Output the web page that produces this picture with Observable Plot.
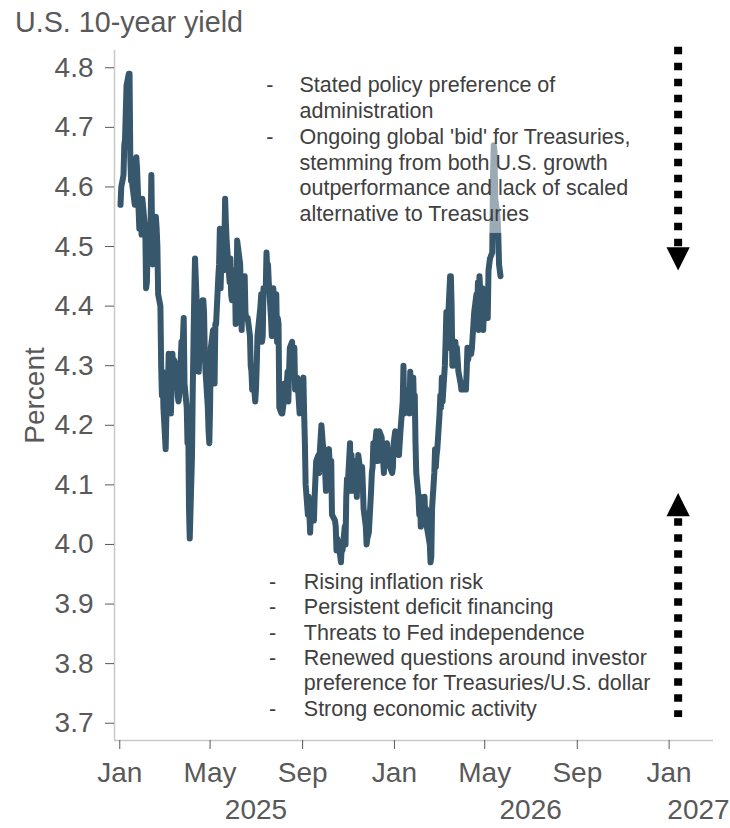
<!DOCTYPE html>
<html><head><meta charset="utf-8">
<script src="https://cdn.jsdelivr.net/npm/d3@7"></script>
<script src="https://cdn.jsdelivr.net/npm/@observablehq/plot@0.6"></script>
<style>
body{margin:0;background:#fff;font-family:"Liberation Sans",Arial,sans-serif;}
#title{height:40px;line-height:45px;font-size:28.7px;color:#595959;padding-left:15px;white-space:nowrap;}
#chart svg{overflow:hidden;display:block}
</style></head><body>
<div id="title">U.S. 10-year yield</div>
<div id="chart"></div>
<script>
// ---- data ----
const series2025 = [
["2025-01-02",4.57],["2025-01-03",4.60],["2025-01-06",4.62],["2025-01-07",4.67],["2025-01-08",4.68],["2025-01-10",4.77],["2025-01-13",4.79],["2025-01-14",4.79],["2025-01-15",4.65],["2025-01-16",4.61],["2025-01-17",4.61],["2025-01-21",4.57],["2025-01-22",4.60],["2025-01-23",4.65],["2025-01-24",4.63],["2025-01-27",4.53],["2025-01-28",4.55],["2025-01-29",4.55],["2025-01-30",4.52],["2025-01-31",4.58],
["2025-02-03",4.54],["2025-02-04",4.52],["2025-02-05",4.43],["2025-02-06",4.44],["2025-02-07",4.49],["2025-02-10",4.50],["2025-02-11",4.54],["2025-02-12",4.62],["2025-02-13",4.52],["2025-02-14",4.47],["2025-02-18",4.55],["2025-02-19",4.53],["2025-02-20",4.50],["2025-02-21",4.42],["2025-02-24",4.40],["2025-02-25",4.30],["2025-02-26",4.25],["2025-02-27",4.29],["2025-02-28",4.23],
["2025-03-03",4.16],["2025-03-04",4.22],["2025-03-05",4.28],["2025-03-06",4.26],["2025-03-07",4.32],["2025-03-10",4.22],["2025-03-11",4.28],["2025-03-12",4.32],["2025-03-13",4.27],["2025-03-14",4.31],["2025-03-17",4.30],["2025-03-18",4.28],["2025-03-19",4.25],["2025-03-20",4.24],["2025-03-21",4.25],["2025-03-24",4.34],["2025-03-25",4.31],["2025-03-26",4.35],["2025-03-27",4.38],["2025-03-28",4.27],["2025-03-31",4.23],
["2025-04-01",4.17],["2025-04-02",4.20],["2025-04-03",4.06],["2025-04-04",4.01],["2025-04-07",4.15],["2025-04-08",4.26],["2025-04-09",4.34],["2025-04-10",4.42],["2025-04-11",4.48],["2025-04-14",4.38],["2025-04-15",4.33],["2025-04-16",4.29],["2025-04-17",4.33],["2025-04-21",4.41],["2025-04-22",4.41],["2025-04-23",4.39],["2025-04-24",4.32],["2025-04-25",4.29],["2025-04-28",4.23],["2025-04-29",4.19],["2025-04-30",4.17],
["2025-05-01",4.23],["2025-05-02",4.33],["2025-05-05",4.36],["2025-05-06",4.30],["2025-05-07",4.27],["2025-05-08",4.37],["2025-05-09",4.37],["2025-05-12",4.45],["2025-05-13",4.47],["2025-05-14",4.53],["2025-05-15",4.43],["2025-05-16",4.48],["2025-05-19",4.46],["2025-05-20",4.50],["2025-05-21",4.58],["2025-05-22",4.54],["2025-05-23",4.51],["2025-05-27",4.44],["2025-05-28",4.48],["2025-05-29",4.42],["2025-05-30",4.41],
["2025-06-02",4.46],["2025-06-03",4.46],["2025-06-04",4.37],["2025-06-05",4.39],["2025-06-06",4.51],["2025-06-09",4.48],["2025-06-10",4.47],["2025-06-11",4.41],["2025-06-12",4.36],["2025-06-13",4.41],["2025-06-16",4.45],["2025-06-17",4.39],["2025-06-18",4.38],["2025-06-20",4.38],["2025-06-23",4.35],["2025-06-24",4.30],["2025-06-25",4.29],["2025-06-26",4.26],["2025-06-27",4.29],["2025-06-30",4.24],
["2025-07-01",4.26],["2025-07-02",4.30],["2025-07-03",4.35],["2025-07-07",4.40],["2025-07-08",4.42],["2025-07-09",4.34],["2025-07-10",4.35],["2025-07-11",4.43],["2025-07-14",4.43],["2025-07-15",4.49],["2025-07-16",4.46],["2025-07-17",4.47],["2025-07-18",4.44],["2025-07-21",4.38],["2025-07-22",4.35],["2025-07-23",4.40],["2025-07-24",4.43],["2025-07-25",4.40],["2025-07-28",4.42],["2025-07-29",4.34],["2025-07-30",4.38],["2025-07-31",4.37],
["2025-08-01",4.23],["2025-08-04",4.22],["2025-08-05",4.22],["2025-08-06",4.23],["2025-08-07",4.24],["2025-08-08",4.27],["2025-08-11",4.27],["2025-08-12",4.29],["2025-08-13",4.24],["2025-08-14",4.29],["2025-08-15",4.33],["2025-08-18",4.34],["2025-08-19",4.30],["2025-08-20",4.29],["2025-08-21",4.33],["2025-08-22",4.26],["2025-08-25",4.28],["2025-08-26",4.26],["2025-08-27",4.24],["2025-08-28",4.22],["2025-08-29",4.23],
["2025-09-02",4.28],["2025-09-03",4.22],["2025-09-04",4.17],["2025-09-05",4.10],["2025-09-08",4.05],["2025-09-09",4.08],["2025-09-10",4.05],["2025-09-11",4.02],["2025-09-12",4.06],["2025-09-15",4.05],["2025-09-16",4.04],["2025-09-17",4.08],["2025-09-18",4.11],["2025-09-19",4.14],["2025-09-22",4.15],["2025-09-23",4.12],["2025-09-24",4.16],["2025-09-25",4.18],["2025-09-26",4.20],["2025-09-29",4.15],["2025-09-30",4.16],
["2025-10-01",4.12],["2025-10-02",4.09],["2025-10-03",4.13],["2025-10-06",4.16],["2025-10-07",4.13],["2025-10-08",4.12],["2025-10-09",4.14],["2025-10-10",4.05],["2025-10-14",4.04],["2025-10-15",4.03],["2025-10-16",3.99],["2025-10-17",4.01],["2025-10-20",3.99],["2025-10-21",3.98],["2025-10-22",3.97],["2025-10-23",4.00],["2025-10-24",3.99],["2025-10-27",4.03],["2025-10-28",4.00],["2025-10-29",4.08],["2025-10-30",4.11],["2025-10-31",4.10],
["2025-11-03",4.17],["2025-11-04",4.09],["2025-11-05",4.15],["2025-11-06",4.09],["2025-11-07",4.10],["2025-11-10",4.14],["2025-11-12",4.08],["2025-11-13",4.12],["2025-11-14",4.15],["2025-11-17",4.12],["2025-11-18",4.11],["2025-11-19",4.13],["2025-11-20",4.10],["2025-11-21",4.06],["2025-11-24",4.03],["2025-11-25",4.00],["2025-11-26",4.01],["2025-11-28",4.02],
["2025-12-01",4.09],["2025-12-02",4.12],["2025-12-03",4.13],["2025-12-04",4.17],["2025-12-05",4.15],["2025-12-08",4.19],["2025-12-09",4.18],["2025-12-10",4.14],["2025-12-11",4.15],["2025-12-12",4.19],["2025-12-15",4.18],["2025-12-16",4.15],["2025-12-17",4.14],["2025-12-18",4.12],["2025-12-19",4.15],["2025-12-22",4.17],["2025-12-23",4.16],["2025-12-24",4.14],["2025-12-26",4.13],["2025-12-29",4.12],["2025-12-30",4.13],["2025-12-31",4.17]
];
const series2026 = [
["2026-01-02",4.19],["2026-01-05",4.16],["2026-01-06",4.18],["2026-01-07",4.15],["2026-01-08",4.17],["2026-01-09",4.19],["2026-01-12",4.24],["2026-01-13",4.30],["2026-01-14",4.22],["2026-01-15",4.26],["2026-01-16",4.23],["2026-01-20",4.25],["2026-01-21",4.22],["2026-01-22",4.29],["2026-01-23",4.24],["2026-01-26",4.28],["2026-01-27",4.23],["2026-01-28",4.25],["2026-01-29",4.17],["2026-01-30",4.12],
["2026-02-02",4.08],["2026-02-03",4.05],["2026-02-04",4.08],["2026-02-05",4.03],["2026-02-06",4.07],["2026-02-09",4.05],["2026-02-10",4.08],["2026-02-11",4.04],["2026-02-12",4.06],["2026-02-13",4.03],["2026-02-17",4.00],["2026-02-18",3.97],["2026-02-19",3.98],["2026-02-20",4.06],["2026-02-23",4.12],["2026-02-24",4.16],["2026-02-25",4.13],["2026-02-26",4.15],["2026-02-27",4.16],
["2026-03-02",4.22],["2026-03-03",4.25],["2026-03-04",4.23],["2026-03-05",4.28],["2026-03-06",4.24],["2026-03-09",4.30],["2026-03-10",4.34],["2026-03-11",4.39],["2026-03-12",4.33],["2026-03-13",4.37],["2026-03-16",4.45],["2026-03-17",4.45],["2026-03-18",4.40],["2026-03-19",4.30],["2026-03-20",4.33],["2026-03-23",4.34],["2026-03-24",4.30],["2026-03-25",4.33],["2026-03-26",4.31],["2026-03-27",4.29],["2026-03-30",4.27],["2026-03-31",4.26],
["2026-04-01",4.26],["2026-04-02",4.27],["2026-04-03",4.26],["2026-04-06",4.26],["2026-04-07",4.29],["2026-04-08",4.33],["2026-04-09",4.31],["2026-04-10",4.32],["2026-04-13",4.32],["2026-04-14",4.33],["2026-04-15",4.35],["2026-04-16",4.37],["2026-04-17",4.39],["2026-04-20",4.42],["2026-04-21",4.40],["2026-04-22",4.44],["2026-04-23",4.36],["2026-04-24",4.45],["2026-04-27",4.38],["2026-04-28",4.43],["2026-04-29",4.36],["2026-04-30",4.40],
["2026-05-01",4.38],["2026-05-04",4.42],["2026-05-05",4.38],["2026-05-06",4.46],["2026-05-07",4.47],["2026-05-08",4.48],["2026-05-11",4.49],["2026-05-12",4.62],["2026-05-13",4.67],["2026-05-14",4.66],["2026-05-15",4.58],["2026-05-18",4.55],["2026-05-19",4.52],["2026-05-20",4.47],["2026-05-21",4.46],["2026-05-22",4.45]
];
const yTicks = [3.7, 3.8, 3.9, 4.0, 4.1, 4.2, 4.3, 4.4, 4.5, 4.6, 4.7, 4.8];
const monthTicks = ["2025-01-01","2025-05-01","2025-09-01","2026-01-01","2026-05-01","2026-09-01","2027-01-01"];
const yearLabels = ["2025", "2026", "2027"];
const upperBullets = "Stated policy preference of\nadministration\nOngoing global 'bid' for Treasuries,\nstemming from both U.S. growth\noutperformance and lack of scaled\nalternative to Treasuries";
const lowerBullets = "Rising inflation risk\nPersistent deficit financing\nThreats to Fed independence\nRenewed questions around investor\npreference for Treasuries/U.S. dollar\nStrong economic activity";
const upperDashes = "-\n\n-";
const lowerDashes = "-\n-\n-\n-\n\n-";
const yLabel = "Percent";

// ---- chart ----
const parse = d3.utcParse("%Y-%m-%d");
const rows = [...series2025, ...series2026].map(([d, v]) => ({date: parse(d), value: v}));
const xDomain = [parse("2024-12-25"), parse("2027-03-01")];
const yDomain = [3.671, 4.829];
const yearRows = yearLabels.map((label, i) => ({label, date: parse(["2025-07-01", "2026-07-01", "2027-02-09"][i])}));
const arrowDate = parse("2027-01-13");

const triDown = {draw(ctx, size) { const r = Math.sqrt(size / Math.PI); ctx.moveTo(-r, -r); ctx.lineTo(r, -r); ctx.lineTo(0, r); ctx.closePath(); }};
const triUp = {draw(ctx, size) { const r = Math.sqrt(size / Math.PI); ctx.moveTo(-r, r); ctx.lineTo(r, r); ctx.lineTo(0, -r); ctx.closePath(); }};

const font = "Liberation Sans, Arial, sans-serif";
const chart = Plot.plot({
  width: 730, height: 788,
  marginTop: 10, marginBottom: 88, marginLeft: 114, marginRight: 17,
  style: {fontFamily: font, fontSize: "28px", color: "#595959", background: "white", overflow: "hidden"},
  x: {type: "utc", domain: xDomain},
  y: {domain: yDomain},
  marks: [
    Plot.ruleY([yDomain[0]], {stroke: "#c8c8c8", strokeWidth: 1.5}),
    Plot.ruleX([xDomain[0]], {stroke: "#c8c8c8", strokeWidth: 1.5}),
    Plot.axisY({ticks: yTicks, tickFormat: d3.format(".1f"), tickSize: 9, tickPadding: 12, fontSize: 28, color: "#595959", label: null}),
    Plot.axisX({ticks: monthTicks.map(parse), tickFormat: d3.utcFormat("%b"), tickSize: 9, tickPadding: 13, fontSize: 28, color: "#595959", label: null}),
    Plot.lineY(rows, {x: "date", y: "value", stroke: "#37576d", strokeWidth: 6}),
    Plot.rect([{x1: parse("2025-07-01"), x2: parse("2026-11-15"), y1: 4.522, y2: 4.829}], {x1: "x1", x2: "x2", y1: "y1", y2: "y2", fill: "white", fillOpacity: 0.5}),
    Plot.text([upperBullets], {text: d => d, frameAnchor: "top-left", dx: 185, dy: 23.4, textAnchor: "start", lineAnchor: "top", lineHeight: 1.2, fontSize: 21.5, fill: "#404040"}),
    Plot.text([upperDashes], {text: d => d, frameAnchor: "top-left", dx: 151.7, dy: 23.4, textAnchor: "start", lineAnchor: "top", lineHeight: 1.2, fontSize: 21.5, fill: "#404040"}),
    Plot.text([lowerBullets], {text: d => d, frameAnchor: "bottom-left", dx: 189.3, dy: -25, textAnchor: "start", lineAnchor: "bottom", lineHeight: 1.177, fontSize: 21.5, fill: "#404040"}),
    Plot.text([lowerDashes], {text: d => d, frameAnchor: "bottom-left", dx: 154.4, dy: -25, textAnchor: "start", lineAnchor: "bottom", lineHeight: 1.177, fontSize: 21.5, fill: "#404040"}),
    Plot.text([yLabel], {text: d => d, frameAnchor: "left", dx: -71, rotate: -90, textAnchor: "middle", lineAnchor: "bottom", fontSize: 28, fill: "#595959"}),
    Plot.text(yearRows, {x: "date", text: "label", frameAnchor: "bottom", dy: 78, lineAnchor: "bottom", textAnchor: "middle", fontSize: 28, fill: "#595959"}),
    Plot.ruleX([{d: arrowDate, y1: 4.8345, y2: 4.499}], {x: "d", y1: "y1", y2: "y2", stroke: "black", strokeWidth: 8, strokeDasharray: "7.5,8.5"}),
    Plot.dot([{d: arrowDate, y: 4.4793}], {x: "d", y: "y", symbol: triDown, r: 11.6, fill: "black", stroke: "none"}),
    Plot.ruleX([{d: arrowDate, y1: 4.0431, y2: 3.7096}], {x: "d", y1: "y1", y2: "y2", stroke: "black", strokeWidth: 8, strokeDasharray: "7.5,8.5"}),
    Plot.dot([{d: arrowDate, y: 4.067}], {x: "d", y: "y", symbol: triUp, r: 11.6, fill: "black", stroke: "none"})
  ]
});
document.getElementById("chart").append(chart);
</script>
</body></html>
